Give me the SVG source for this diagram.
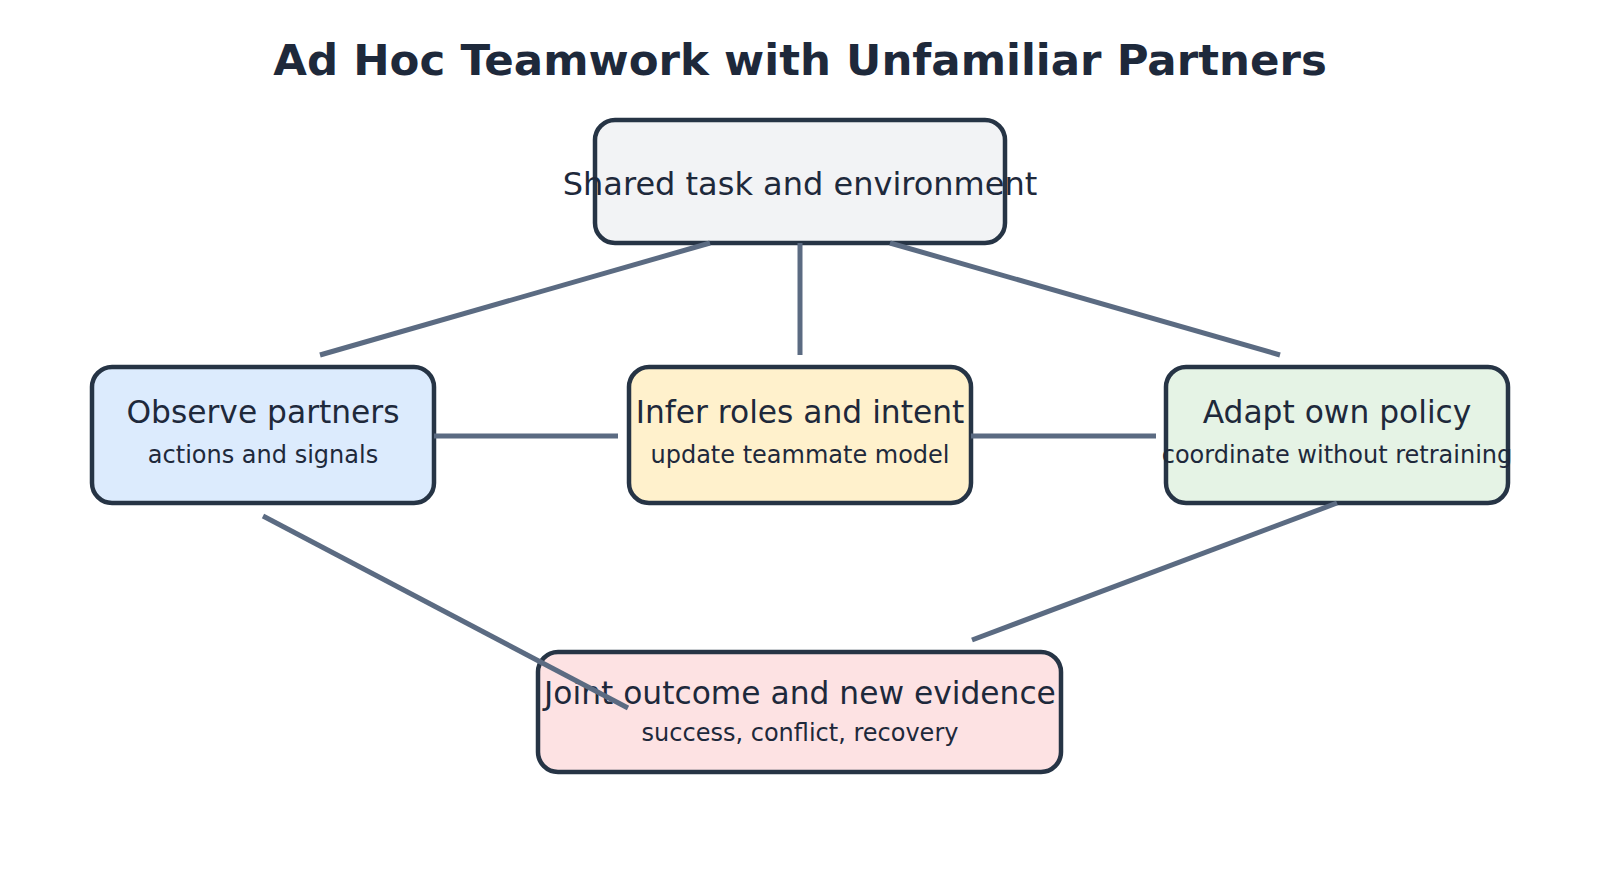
<svg xmlns="http://www.w3.org/2000/svg" width="1600" height="869" viewBox="0 0 1600 869">
<style>
.box{stroke:#263445;stroke-width:4.5}
.t{font-family:"DejaVu Sans",sans-serif;fill:#1e293b;text-anchor:middle}
.h{font-size:31.3px}
.big{font-size:32px}
.s{font-size:24px}
.title{font-size:43.5px;font-weight:bold}
.c line{stroke:#5b6b82;stroke-width:5}
</style>
<rect width="1600" height="869" fill="#ffffff"/>
<text class="t title" x="800" y="75">Ad Hoc Teamwork with Unfamiliar Partners</text>
<g id="shared">
<rect class="box" x="595" y="120" width="410" height="123" rx="20" fill="#f2f3f5"/>
<text class="t big" x="800" y="195">Shared task and environment</text>
</g>
<g id="observe">
<rect class="box" x="92" y="367" width="342" height="136" rx="20" fill="#dcebfd"/>
<text class="t h" x="263" y="423">Observe partners</text>
<text class="t s" x="263" y="463">actions and signals</text>
</g>
<g id="infer">
<rect class="box" x="629" y="367" width="342" height="136" rx="20" fill="#fff1cc"/>
<text class="t h" x="800" y="423">Infer roles and intent</text>
<text class="t s" x="800" y="463">update teammate model</text>
</g>
<g id="adapt">
<rect class="box" x="1166" y="367" width="342" height="136" rx="20" fill="#e5f3e5"/>
<text class="t h" x="1337" y="423">Adapt own policy</text>
<text class="t s" x="1337" y="463">coordinate without retraining</text>
</g>
<g id="joint">
<rect class="box" x="538" y="652" width="523" height="120" rx="20" fill="#fde2e3"/>
<text class="t h" x="800" y="704">Joint outcome and new evidence</text>
<text class="t s" x="800" y="741">success, conflict, recovery</text>
</g>
<g id="connectors" class="c">
<line x1="710" y1="243" x2="320" y2="355"/>
<line x1="800" y1="243" x2="800" y2="355"/>
<line x1="890" y1="243" x2="1280" y2="355"/>
<line x1="434" y1="436" x2="618" y2="436"/>
<line x1="971" y1="436" x2="1156" y2="436"/>
<line x1="263" y1="516" x2="628" y2="708"/>
<line x1="1337" y1="503" x2="972" y2="640"/>
</g>
</svg>
